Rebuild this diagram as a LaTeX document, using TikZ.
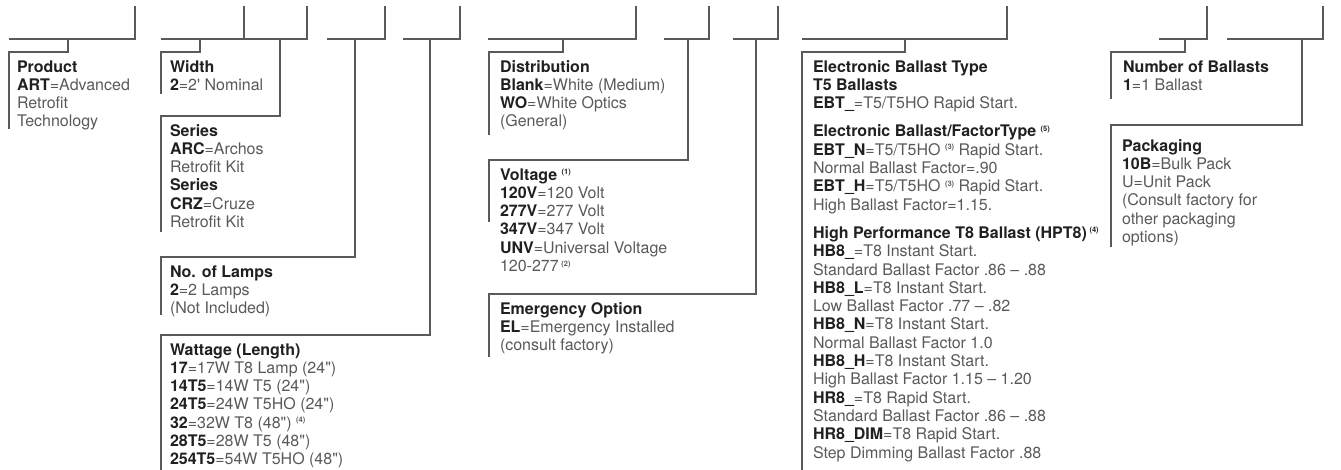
\documentclass[tikz,border=0pt]{standalone}
\usepackage{fontspec}
\setmainfont{TeX Gyre Heros}[Ligatures=TeXOff]
\definecolor{lab}{HTML}{231F20}
\definecolor{val}{HTML}{58595B}
\definecolor{ln}{HTML}{5A5A5A}
\newcommand\lb[1]{{\bfseries\color{lab}#1}}
\newcommand\sps[1]{\raisebox{5.5pt}{\fontsize{7.5}{7.5}\selectfont\bfseries #1}}
\newcommand\boxtext[1]{\parbox[t]{320pt}{\fontsize{16}{18.3}\selectfont\raggedright\leavevmode\color{val}#1}}
\tikzset{
  conn/.style={draw=ln, line width=1.6pt, line join=miter},
  txt/.style={anchor=base west, inner sep=0pt, outer sep=0pt}
}
\begin{document}
\begin{tikzpicture}[x=1pt,y=-1pt]
\useasboundingbox (0,0) rectangle (1341,469);
\clip (0,0) rectangle (1341,469);
% blanks (answer lines) with end ticks
\foreach \n/\l/\r in {k1/9/135,k2/161/307,k3/327/385,k4/403/460,k5/488/636,k6/664/709,k7/733/778,k8/802/1007,k9/1159/1207,k10/1227/1323}{
  \coordinate (\n-l) at (\l,39);
  \coordinate (\n-r) at (\r,39);
  \coordinate (\n-t) at (\r,6);
  \draw[conn] (\n-l) -- (\n-r) -- (\n-t);
}
\coordinate (k2-m) at (244,39);
\coordinate (k2-mt) at (244,6);
\draw[conn] (k2-m) -- (k2-mt);
% leaders from blanks down to the option boxes
\foreach \n/\dx/\ty/\lx/\by in {prod/68/52/9/129,wid/200/52/161/94,ser/280/116/161/232,lmp/355/257/161/315,wat/430/335/161/480,dis/563/52/489/135,vol/688/160/489/222,emg/756/294/489/357,ele/905/52/802/480,num/1185/52/1111/99,pak/1302/125/1111/247}{
  \coordinate (\n-a) at (\dx,39);
  \coordinate (\n-b) at (\dx,\ty);
  \coordinate (\n-c) at (\lx,\ty);
  \coordinate (\n-d) at (\lx,\by);
  \draw[conn] (\n-a) -- (\n-b) -- (\n-c) -- (\n-d);
}
% texts
\node[txt] (tprod) at (17,72) {\boxtext{\lb{Product}\\ \lb{ART}=Advanced\\ Retrofit\\ Technology}};
\node[txt] (twid) at (170,72) {\boxtext{\lb{Width}\\ \lb{2}=2' Nominal}};
\node[txt] (tser) at (170,136) {\boxtext{\lb{Series}\\ \lb{ARC}=Archos\\ Retrofit Kit\\ \lb{Series}\\ \lb{CRZ}=Cruze\\ Retrofit Kit}};
\node[txt] (tlmp) at (170,277) {\boxtext{\lb{No. of Lamps}\\ \lb{2}=2 Lamps\\ (Not Included)}};
\node[txt] (twat) at (170,355) {\boxtext{\lb{Wattage (Length)}\\ \lb{17}=17W T8 Lamp (24")\\ \lb{14T5}=14W T5 (24")\\ \lb{24T5}=24W T5HO (24")\\ \lb{32}=32W T8 (48") \sps{(4)}\\ \lb{28T5}=28W T5 (48")\\ \lb{254T5}=54W T5HO (48")}};
\node[txt] (tdis) at (500,72) {\boxtext{\lb{Distribution}\\ \lb{Blank}=White (Medium)\\ \lb{WO}=White Optics\\ (General)}};
\node[txt] (tvol) at (500,180) {\boxtext{\lb{Voltage \sps{(1)}}\\ \lb{120V}=120 Volt\\ \lb{277V}=277 Volt\\ \lb{347V}=347 Volt\\ \lb{UNV}=Universal Voltage\\ 120-277\,\sps{(2)}}};
\node[txt] (temg) at (500,314) {\boxtext{\lb{Emergency Option}\\ \lb{EL}=Emergency Installed\\ (consult factory)}};
\node[txt] (tele) at (813,72) {\boxtext{\lb{Electronic Ballast Type}\\ \lb{T5 Ballasts}\\ \lb{EBT\_}=T5/T5HO Rapid Start.\\[10pt] \lb{Electronic Ballast/FactorType \sps{(5)}}\\ \lb{EBT\_N}=T5/T5HO \sps{(3)} Rapid Start.\\ Normal Ballast Factor=.90\\ \lb{EBT\_H}=T5/T5HO \sps{(3)} Rapid Start.\\ High Ballast Factor=1.15.\\[10pt] \lb{High Performance T8 Ballast (HPT8)\,\sps{(4)}}\\ \lb{HB8\_}=T8 Instant Start.\\ Standard Ballast Factor .86 – .88\\ \lb{HB8\_L}=T8 Instant Start.\\ Low Ballast Factor .77 – .82\\ \lb{HB8\_N}=T8 Instant Start.\\ Normal Ballast Factor 1.0\\ \lb{HB8\_H}=T8 Instant Start.\\ High Ballast Factor 1.15 – 1.20\\ \lb{HR8\_}=T8 Rapid Start.\\ Standard Ballast Factor .86 – .88\\ \lb{HR8\_DIM}=T8 Rapid Start.\\ Step Dimming Ballast Factor .88}};
\node[txt] (tnum) at (1123,72) {\boxtext{\lb{Number of Ballasts}\\ \lb{1}=1 Ballast}};
\node[txt] (tpak) at (1122,151) {\boxtext{\lb{Packaging}\\ \lb{10B}=Bulk Pack\\ U=Unit Pack\\ (Consult factory for\\ other packaging\\ options)}};
\end{tikzpicture}
\end{document}
